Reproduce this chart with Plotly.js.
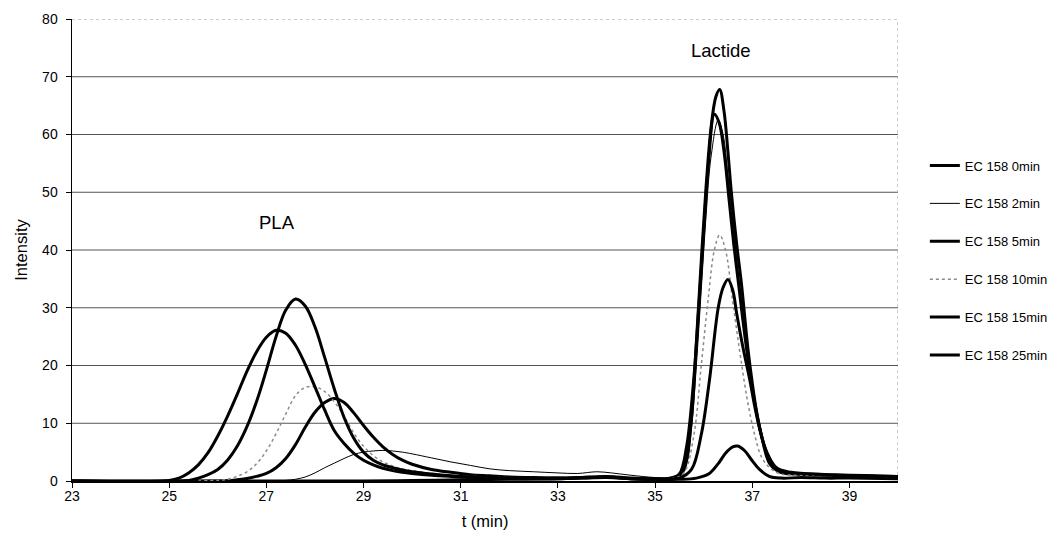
<!DOCTYPE html>
<html>
<head>
<meta charset="utf-8">
<script src="https://cdn.plot.ly/plotly-3.0.1.min.js"></script>
<style>html,body{margin:0;padding:0;background:#fff;}#chart{width:1060px;height:549px;}</style>
</head>
<body>
<div id="chart"></div>
<script>
// Series names
const seriesNames = ["EC 158 0min", "EC 158 2min", "EC 158 5min", "EC 158 10min", "EC 158 15min", "EC 158 25min"];

// EC 158 0min (no PLA, lactide peak ~68)
const t0 = [23, 25, 27, 29, 30, 31, 32, 33, 33.5, 34, 34.5, 35, 35.3, 35.5, 35.6, 35.75, 35.85, 35.95, 36.05, 36.15, 36.25, 36.33, 36.42, 36.5, 36.57, 36.68, 36.78, 36.91, 37.0, 37.09, 37.2, 37.36, 37.56, 37.8, 38.2, 38.6, 39, 39.5, 40];
const v0 = [0, 0, 0, 0, 0.1, 0.2, 0.3, 0.4, 0.6, 0.8, 0.5, 0.4, 0.5, 1.0, 2, 11, 24, 38, 51, 61, 66.5, 67.8, 64, 57, 50, 41, 34, 23, 17, 12, 7.5, 3, 1.6, 1.3, 1.2, 1.1, 1.0, 0.9, 0.8];

// EC 158 2min
const t2 = [23, 27.2, 27.4, 27.6, 27.8, 28.0, 28.2, 28.4, 28.6, 28.8, 29.0, 29.2, 29.4, 29.6, 29.8, 30.0, 30.4, 30.8, 31.2, 31.6, 32.0, 32.5, 33.0, 33.4, 33.8, 34.1, 34.5, 35.0, 35.3, 35.5, 35.65, 35.75, 35.85, 35.95, 36.05, 36.15, 36.3, 36.4, 36.5, 36.6, 36.7, 36.8, 36.9, 37.0, 37.1, 37.2, 37.35, 37.55, 37.8, 38.3, 39, 39.5, 40];
const v2 = [0, 0, 0.1, 0.3, 0.7, 1.4, 2.3, 3.1, 3.9, 4.6, 5.0, 5.2, 5.3, 5.2, 5.0, 4.7, 4.0, 3.3, 2.7, 2.1, 1.8, 1.6, 1.4, 1.3, 1.6, 1.4, 1.0, 0.6, 0.5, 0.8, 3, 9, 20, 33, 46, 56, 62.5, 60, 53, 45, 37, 30, 23, 17, 12, 8, 3.5, 1.7, 1.3, 1.1, 1.0, 0.9, 0.8];

// EC 158 5min
const t5 = [23, 26.2, 26.4, 26.6, 26.8, 27.0, 27.2, 27.4, 27.6, 27.8, 28.0, 28.2, 28.4, 28.6, 28.8, 29.0, 29.2, 29.4, 29.6, 29.8, 30.0, 30.4, 30.8, 31.2, 31.6, 32.0, 32.5, 33.0, 33.5, 34, 34.5, 35, 35.3, 35.5, 35.65, 35.8, 35.9, 36.0, 36.1, 36.22, 36.32, 36.42, 36.52, 36.62, 36.72, 36.85, 37.0, 37.12, 37.25, 37.4, 37.6, 37.9, 38.5, 39, 40];
const v5 = [0, 0.05, 0.2, 0.45, 0.8, 1.3, 2.3, 3.9, 6.3, 9.3, 11.9, 13.6, 14.3, 13.6, 11.8, 9.6, 7.6, 5.9, 4.6, 3.6, 2.9, 2.0, 1.5, 1.1, 0.9, 0.7, 0.6, 0.5, 0.5, 0.7, 0.4, 0.3, 0.4, 1.2, 6, 18, 30, 43, 55, 63.5, 62, 57, 49, 41, 34, 25, 16, 10.5, 6, 3, 1.5, 1.2, 1.0, 0.9, 0.7];

// EC 158 10min
const t10 = [23, 26.0, 26.2, 26.4, 26.6, 26.8, 27.0, 27.2, 27.4, 27.6, 27.8, 28.0, 28.2, 28.4, 28.6, 28.8, 29.0, 29.2, 29.4, 29.6, 29.8, 30.0, 30.4, 30.8, 31.2, 31.6, 32.0, 33.0, 34.0, 34.5, 35.0, 35.4, 35.6, 35.8, 35.95, 36.1, 36.22, 36.33, 36.45, 36.6, 36.75, 36.9, 37.05, 37.2, 37.4, 37.6, 38.0, 38.5, 39, 40];
const v10 = [0, 0.1, 0.3, 0.8, 1.6, 3.0, 5.2, 8.2, 11.6, 14.8, 16.2, 16.3, 15.5, 13.7, 11.2, 8.3, 6.0, 4.4, 3.3, 2.6, 2.1, 1.8, 1.3, 1.0, 0.8, 0.7, 0.6, 0.5, 0.7, 0.4, 0.3, 0.5, 1.5, 8, 20, 32, 40, 42.6, 40, 31, 22, 14, 8, 4, 2, 1.2, 1.0, 0.9, 0.8, 0.7];

// EC 158 15min
const t15 = [23, 25.0, 25.2, 25.4, 25.6, 25.8, 26.0, 26.2, 26.4, 26.6, 26.8, 27.0, 27.2, 27.4, 27.6, 27.8, 28.0, 28.2, 28.4, 28.6, 28.8, 29.0, 29.2, 29.4, 29.6, 29.8, 30.0, 30.4, 30.8, 31.2, 31.6, 32.0, 33.0, 34.0, 34.5, 35.0, 35.5, 35.75, 35.95, 36.12, 36.3, 36.4, 36.5, 36.6, 36.68, 36.8, 36.95, 37.05, 37.16, 37.3, 37.5, 37.8, 38.5, 39, 40];
const v15 = [0, 0.1, 0.5, 1.4, 2.8, 4.9, 7.8, 11.2, 15.0, 19.0, 22.4, 24.9, 26.1, 25.6, 23.5, 20.2, 16.3, 12.3, 8.7, 6.5, 4.8, 3.6, 2.8, 2.2, 1.8, 1.5, 1.3, 1.0, 0.8, 0.65, 0.55, 0.5, 0.4, 0.6, 0.4, 0.3, 0.5, 2, 8, 17.5, 30, 33.5, 34.9, 33, 29, 23.5, 17.5, 13, 8.8, 5, 2.3, 1.5, 1.1, 0.9, 0.8];

// EC 158 25min
const t25 = [23, 25.4, 25.6, 25.8, 26.0, 26.2, 26.4, 26.6, 26.8, 27.0, 27.2, 27.4, 27.6, 27.8, 28.0, 28.2, 28.4, 28.6, 28.8, 29.0, 29.2, 29.4, 29.6, 29.8, 30.0, 30.4, 30.8, 31.2, 31.6, 32.0, 33.0, 34.0, 34.5, 35.0, 35.5, 35.85, 36.1, 36.3, 36.45, 36.6, 36.7, 36.85, 37.0, 37.15, 37.35, 37.6, 38, 38.5, 39, 40];
const v25 = [0, 0.1, 0.5, 1.1, 2.0, 3.6, 6.0, 9.4, 13.8, 19.2, 25.0, 29.6, 31.5, 30.3, 26.7, 21.4, 15.9, 11.0, 7.4, 5.0, 3.6, 2.8, 2.3, 1.9, 1.6, 1.2, 0.9, 0.7, 0.6, 0.5, 0.5, 0.7, 0.4, 0.3, 0.3, 0.5, 1.2, 3, 4.8, 5.9, 6.05, 5.2, 3.5, 2, 0.8, 0.5, 0.6, 0.5, 0.5, 0.4];

const xTicks = [23, 25, 27, 29, 31, 33, 35, 37, 39];
const yTicks = [0, 10, 20, 30, 40, 50, 60, 70, 80];
const gridValues = [10, 20, 30, 40, 50, 60, 70];

const xs = [t0, t2, t5, t10, t15, t25];
const ys = [v0, v2, v5, v10, v15, v25];
const styles = [
  {color: "#000", width: 3, dash: "solid"},
  {color: "#000", width: 1, dash: "solid"},
  {color: "#000", width: 3, dash: "solid"},
  {color: "#8a8a8a", width: 1.5, dash: "dot"},
  {color: "#000", width: 3, dash: "solid"},
  {color: "#000", width: 3, dash: "solid"}
];

const traces = seriesNames.map((name, i) => ({
  type: "scatter",
  mode: "lines",
  name: name,
  x: xs[i],
  y: ys[i],
  legendgroup: "g" + i,
  line: {color: styles[i].color, width: styles[i].width, dash: styles[i].dash, shape: "spline", smoothing: 1},
  hoverinfo: "skip"
}));

const shapes = gridValues.map(v => ({
  type: "line", xref: "paper", yref: "y", x0: 0, x1: 1, y0: v, y1: v,
  line: {color: "#555", width: 1}, layer: "below"
}));
shapes.push({type: "line", xref: "paper", yref: "y", x0: 0, x1: 1, y0: 80, y1: 80, line: {color: "#999", width: 1, dash: "dot"}, layer: "below"});
shapes.push({type: "line", xref: "x", yref: "paper", x0: 40, x1: 40, y0: 0, y1: 1, line: {color: "#999", width: 1, dash: "dot"}, layer: "below"});

const font = "Liberation Sans, Arial, sans-serif";

const layout = {
  width: 1060, height: 549,
  margin: {l: 72, r: 162, t: 19, b: 68, autoexpand: false},
  paper_bgcolor: "#fff", plot_bgcolor: "#fff",
  font: {family: font, color: "#000", size: 14},
  showlegend: true,
  legend: {
    x: 1.0325, xanchor: "left", y: 0.7153, yanchor: "top",
    font: {family: font, size: 13, color: "#000"},
    tracegroupgap: 18, traceorder: "grouped",
    bgcolor: "rgba(0,0,0,0)", borderwidth: 0
  },
  xaxis: {
    range: [23, 40], tickvals: xTicks, ticktext: xTicks.map(String),
    ticks: "outside", ticklen: 5, tickwidth: 1, tickcolor: "#000",
    showline: true, linecolor: "#000", linewidth: 1.5,
    showgrid: false, zeroline: false, ticklabelstandoff: -3, automargin: false,
    tickfont: {family: font, size: 14},
    title: {text: "t (min)", font: {family: font, size: 16.5}, standoff: 12}
  },
  yaxis: {
    range: [0, 80], tickvals: yTicks, ticktext: yTicks.map(String),
    ticks: "outside", ticklen: 5, tickwidth: 1, tickcolor: "#000",
    showline: true, linecolor: "#000", linewidth: 1.5,
    showgrid: false, zeroline: false, ticklabelstandoff: 5, automargin: false,
    tickfont: {family: font, size: 14},
    title: {text: "Intensity", font: {family: font, size: 16.5}, standoff: 10}
  },
  shapes: shapes,
  annotations: [
    {x: 27.22, y: 44.7, xref: "x", yref: "y", text: "PLA", showarrow: false, font: {family: font, size: 18.5, color: "#000"}},
    {x: 36.35, y: 74.5, xref: "x", yref: "y", text: "Lactide", showarrow: false, font: {family: font, size: 18.5, color: "#000"}}
  ]
};

Plotly.newPlot("chart", traces, layout, {displayModeBar: false, staticPlot: true});
</script>
</body>
</html>
